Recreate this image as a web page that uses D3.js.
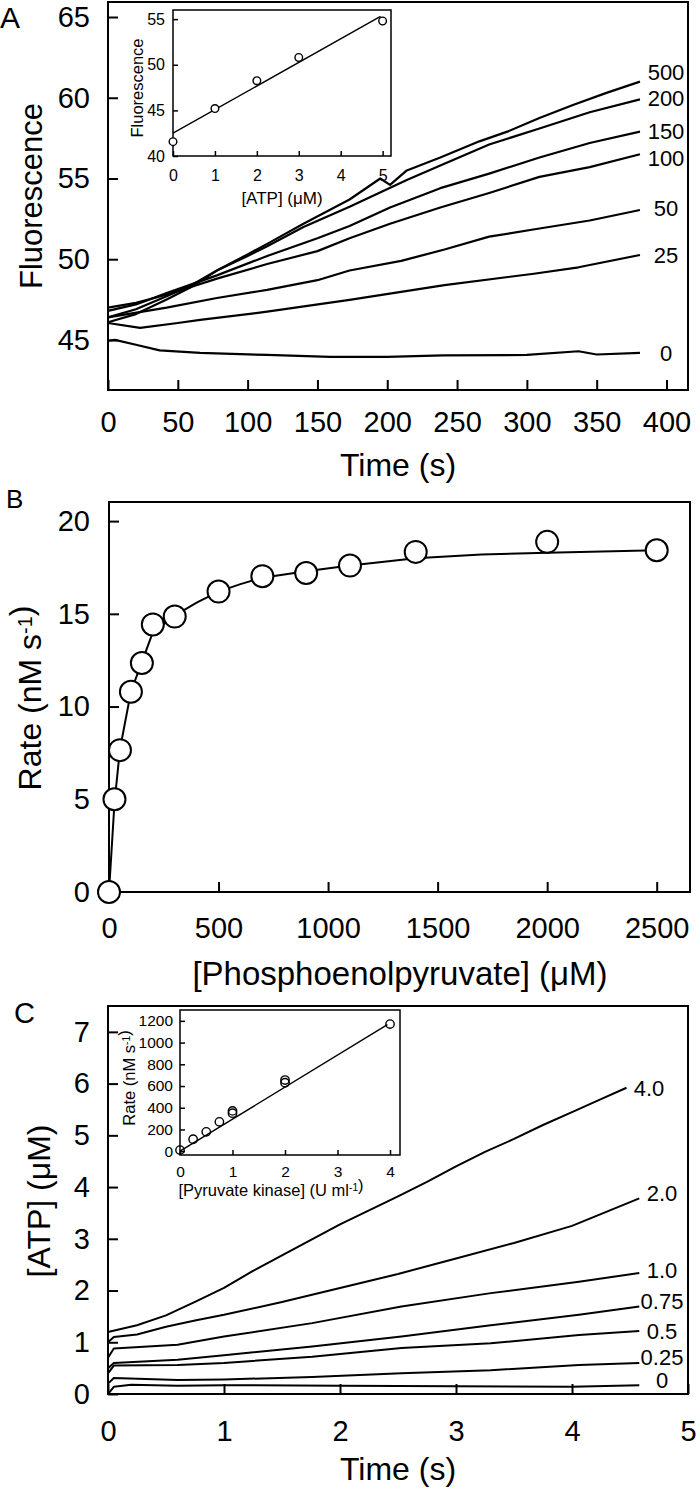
<!DOCTYPE html>
<html>
<head>
<meta charset="utf-8">
<script src="https://cdn.jsdelivr.net/npm/d3@7"></script>
<style>
  body { margin: 0; background: #fff; }
  text { font-family: "Liberation Sans", Arial, Helvetica, sans-serif; fill: #000; }
</style>
</head>
<body>
<svg id="fig" width="698" height="1490"></svg>
<script>
// ---- Panel A: fluorescence traces (time s, fluorescence) ----
const traceLabelsA = ['500', '200', '150', '100', '50', '25', '0'];
const a500 = [[0,46.1],[20,46.6],[42,47.5],[60,48.3],[78,49.3],[100,50.3],[114,50.95],[140,52.2],[173,53.7],[195,55.0],[202,54.6],[214,55.5],[238,56.3],[266,57.3],[286,57.9],[309,58.75],[333,59.55],[357,60.3],[381,61.0]];
const a200 = [[0,46.4],[20,46.9],[42,47.7],[60,48.4],[78,49.3],[100,50.2],[114,50.8],[140,52.0],[173,53.25],[214,54.9],[238,55.8],[273,57.1],[309,58.1],[345,59.1],[381,59.9]];
const a150 = [[0,46.8],[20,47.2],[42,47.9],[78,49.0],[114,50.2],[150,51.3],[173,52.06],[202,53.2],[238,54.4],[273,55.3],[309,56.3],[345,57.2],[381,57.9]];
const a100 = [[0,47.0],[20,47.3],[42,47.8],[78,48.8],[114,49.7],[150,50.5],[173,51.3],[202,52.2],[238,53.2],[273,54.1],[309,55.1],[345,55.7],[381,56.5]];
const a50 = [[0,46.4],[42,47.0],[78,47.6],[114,48.1],[150,48.7],[173,49.3],[210,49.9],[241,50.6],[273,51.4],[309,51.9],[345,52.4],[381,53.05]];
const a25 = [[0,46.05],[23,45.75],[50,46.05],[66,46.24],[114,46.75],[173,47.48],[241,48.4],[305,49.1],[337,49.5],[381,50.26]];
const a0 = [[0,44.95],[5,45.0],[20,44.7],[37,44.35],[66,44.2],[114,44.07],[159,43.95],[200,43.95],[240,44.05],[300,44.07],[337,44.3],[350,44.1],[381,44.2]];
const ticksAx = [0, 50, 100, 150, 200, 250, 300, 350, 400];
const ticksAy = [45, 50, 55, 60, 65];

// inset A: fluorescence vs [ATP]
const atpConc = [0, 1, 2, 3, 5];
const atpFluor = [41.57, 45.2, 48.25, 50.8, 54.8];
const atpFit = [[0, 42.5], [4.95, 55.3]];
const ticksAix = [0, 1, 2, 3, 4, 5];
const ticksAiy = [40, 45, 50, 55];

// ---- Panel B: rate vs [PEP] ----
const pepConc = [0, 25, 50, 100, 150, 200, 300, 500, 700, 900, 1100, 1400, 2000, 2500];
const pepRate = [0, 5.0, 7.65, 10.8, 12.35, 14.43, 14.85, 16.2, 17.03, 17.2, 17.6, 18.34, 18.88, 18.43];
const pepFitX = [0, 25, 50, 100, 150, 200, 300, 400, 500, 600, 700, 900, 1100, 1400, 1700, 2000, 2500];
const pepFitY = [0, 4.8, 7.7, 10.8, 12.4, 14.0, 14.9, 15.6, 16.2, 16.6, 16.95, 17.3, 17.6, 18.0, 18.2, 18.3, 18.43];
const ticksBx = [0, 500, 1000, 1500, 2000, 2500];
const ticksBy = [0, 5, 10, 15, 20];

// ---- Panel C: [ATP] traces (time s, µM) ----
const traceLabelsC = ['4.0', '2.0', '1.0', '0.75', '0.5', '0.25', '0'];
const c40 = [[0,1.2],[0.25,1.33],[0.5,1.52],[0.75,1.78],[1.0,2.05],[1.25,2.38],[1.5,2.68],[1.75,2.98],[2.0,3.28],[2.25,3.55],[2.5,3.82],[2.75,4.1],[3.0,4.4],[3.25,4.68],[3.5,4.93],[3.75,5.2],[4.0,5.45],[4.25,5.7],[4.47,5.92]];
const c20 = [[0,1.0],[0.05,1.1],[0.25,1.15],[0.5,1.3],[0.75,1.42],[1.0,1.53],[1.5,1.78],[2.0,2.05],[2.5,2.32],[3.0,2.62],[3.5,2.92],[4.0,3.25],[4.58,3.78]];
const c10 = [[0,0.7],[0.05,0.88],[0.6,0.95],[1.0,1.11],[1.76,1.37],[2.53,1.69],[3.3,1.95],[4.06,2.17],[4.58,2.34]];
const c075 = [[0,0.5],[0.05,0.6],[0.6,0.66],[1.0,0.75],[1.76,0.92],[2.53,1.11],[3.3,1.33],[4.06,1.53],[4.58,1.69]];
const c05 = [[0,0.4],[0.05,0.55],[0.6,0.56],[1.0,0.6],[1.76,0.72],[2.53,0.89],[3.3,0.98],[4.06,1.14],[4.58,1.22]];
const c025 = [[0,0.2],[0.05,0.31],[0.6,0.27],[1.0,0.28],[1.76,0.33],[2.53,0.4],[3.3,0.46],[4.06,0.56],[4.58,0.6]];
const c0 = [[0,0.0],[0.05,0.14],[0.2,0.18],[0.6,0.16],[1.0,0.17],[2.0,0.16],[3.0,0.15],[4.0,0.14],[4.58,0.17]];
const ticksCx = [0, 1, 2, 3, 4, 5];
const ticksCy = [0, 1, 2, 3, 4, 5, 6, 7];

// inset C: rate vs [pyruvate kinase]
const pkConc = [0, 0.25, 0.5, 0.75, 1, 1, 2, 2, 4];
const pkRate = [10, 110, 178, 270, 371, 350, 655, 630, 1170];
const pkFit = [[0, 0], [3.95, 1165]];
const ticksCix = [0, 1, 2, 3, 4];
const ticksCiy = [0, 200, 400, 600, 800, 1000, 1200];

const svg = d3.select('#fig');

// frame + inward ticks on left/bottom
function drawAxes(g, x, y, o) {
    const [x0, x1] = x.range();
    const [y0, y1] = y.range();
    g.append('rect')
        .attr('x', x0).attr('y', y1)
        .attr('width', x1 - x0).attr('height', y0 - y1)
        .attr('fill', o.fill || 'none')
        .attr('stroke', '#000').attr('stroke-width', o.sw);

    const gx = g.append('g').attr('transform', `translate(0,${y0})`)
        .call(d3.axisBottom(x).tickValues(o.xt).tickSizeInner(-o.tick).tickSizeOuter(0)
            .tickPadding(o.xpad).tickFormat(d3.format('')));
    const gy = g.append('g').attr('transform', `translate(${x0},0)`)
        .call(d3.axisLeft(y).tickValues(o.yt).tickSizeInner(-o.tick).tickSizeOuter(0)
            .tickPadding(o.ypad).tickFormat(d3.format('')));
    [gx, gy].forEach(a => {
        a.attr('font-family', null).attr('font-size', null);
        a.select('.domain').remove();
        a.selectAll('line').attr('stroke', '#000').attr('stroke-width', o.sw);
        a.selectAll('text').style('font-size', o.fs + 'px');
    });
}

function rotLabel(g, x, y, size, parts) {
    const t = g.append('text')
        .attr('transform', `translate(${x},${y}) rotate(-90)`)
        .attr('text-anchor', 'middle')
        .style('font-size', size + 'px');
    addParts(t, parts);
    return t;
}

function addParts(t, parts) {
    parts.forEach(p => {
        if (typeof p === 'string') t.append('tspan').text(p);
        else {
            t.append('tspan').attr('dy', '-0.45em').style('font-size', '0.62em').text(p.sup);
            t.append('tspan').attr('dy', '0.28em').text('');
        }
    });
}

const line = d3.line().x(d => d[0]).y(d => d[1]);

// ================= Panel A =================
const xA = d3.scaleLinear().domain([0, 415.4]).range([108, 688]);
const yA = d3.scaleLinear().domain([41.9, 65.93]).range([390, 2]);
const gA = svg.append('g');
drawAxes(gA, xA, yA, { xt: ticksAx, yt: ticksAy, tick: 10, xpad: 21, ypad: 18, fs: 29, sw: 2 });

const tracesA = [a500, a200, a150, a100, a50, a25, a0];
gA.selectAll('.traceA').data(tracesA).enter().append('path')
    .attr('class', 'traceA')
    .attr('d', d => line(d.map(p => [xA(p[0]), yA(p[1])])))
    .attr('fill', 'none').attr('stroke', '#000').attr('stroke-width', 2.2)
    .attr('stroke-linejoin', 'round');

const nudgeA = [-10, -1, -1, 4, -2, 0, 0];
gA.selectAll('.labA').data(tracesA).enter().append('text')
    .attr('class', 'labA')
    .attr('x', 666)
    .attr('y', (d, i) => yA(d[d.length - 1][1]) + nudgeA[i])
    .attr('dy', '0.36em')
    .attr('text-anchor', 'middle')
    .style('font-size', '22px')
    .text((d, i) => traceLabelsA[i]);

gA.append('text').attr('x', 398).attr('y', 476).attr('text-anchor', 'middle')
    .style('font-size', '32px').text('Time (s)');
rotLabel(gA, 42, 196, 31, ['Fluorescence']);
gA.append('text').attr('x', 0).attr('y', 28).style('font-size', '30px').text('A');

// inset A
const xAi = d3.scaleLinear().domain([0, 5.2]).range([173, 391]);
const yAi = d3.scaleLinear().domain([40, 56]).range([156, 10]);
const gAi = svg.append('g');
drawAxes(gAi, xAi, yAi, { xt: ticksAix, yt: ticksAiy, tick: 5, xpad: 14, ypad: 8, fs: 16, sw: 1.5, fill: '#fff' });
gAi.append('path')
    .attr('d', line(atpFit.map(p => [xAi(p[0]), yAi(p[1])])))
    .attr('stroke', '#000').attr('stroke-width', 1.4);
gAi.selectAll('circle').data(atpConc).enter().append('circle')
    .attr('cx', d => xAi(d)).attr('cy', (d, i) => yAi(atpFluor[i])).attr('r', 3.8)
    .attr('fill', '#fff').attr('stroke', '#000').attr('stroke-width', 1.4);
gAi.append('text').attr('x', 282).attr('y', 204).attr('text-anchor', 'middle')
    .style('font-size', '17px').text('[ATP] (\u03bcM)');
rotLabel(gAi, 143, 88, 16.5, ['Fluorescence']);

// ================= Panel B =================
const xB = d3.scaleLinear().domain([0, 2652]).range([109, 690]);
const yB = d3.scaleLinear().domain([0, 21.03]).range([892, 502]);
const gB = svg.append('g');
drawAxes(gB, xB, yB, { xt: ticksBx, yt: ticksBy, tick: 10, xpad: 25, ypad: 19, fs: 29, sw: 2 });
gB.append('path')
    .attr('d', line(pepFitX.map((c, i) => [xB(c), yB(pepFitY[i])])))
    .attr('fill', 'none').attr('stroke', '#000').attr('stroke-width', 2);
gB.selectAll('circle').data(pepConc).enter().append('circle')
    .attr('cx', d => xB(d)).attr('cy', (d, i) => yB(pepRate[i])).attr('r', 11)
    .attr('fill', '#fff').attr('stroke', '#000').attr('stroke-width', 2);
gB.append('text').attr('x', 400).attr('y', 985).attr('text-anchor', 'middle')
    .style('font-size', '33px').text('[Phosphoenolpyruvate] (\u03bcM)');
rotLabel(gB, 41, 698, 32, ['Rate (nM s', { sup: '-1' }, ')']);
gB.append('text').attr('x', 6).attr('y', 508).style('font-size', '26px').text('B');

// ================= Panel C =================
const xC = d3.scaleLinear().domain([0, 5]).range([108, 688]);
const yC = d3.scaleLinear().domain([0, 7.5]).range([1394, 1006]);
const gC = svg.append('g');
drawAxes(gC, xC, yC, { xt: ticksCx, yt: ticksCy, tick: 10, xpad: 26, ypad: 18, fs: 29, sw: 2 });

const tracesC = [c40, c20, c10, c075, c05, c025, c0];
gC.selectAll('.traceC').data(tracesC).enter().append('path')
    .attr('class', 'traceC')
    .attr('d', d => line(d.map(p => [xC(p[0]), yC(p[1])])))
    .attr('fill', 'none').attr('stroke', '#000').attr('stroke-width', 2)
    .attr('stroke-linejoin', 'round');

const nudgeC = [0, -5, -3, -5, 0, -6, -5];
gC.selectAll('.labC').data(tracesC).enter().append('text')
    .attr('class', 'labC')
    .attr('x', (d, i) => i === 0 ? 649 : 662)
    .attr('y', (d, i) => yC(d[d.length - 1][1]) + nudgeC[i])
    .attr('dy', '0.36em')
    .attr('text-anchor', 'middle')
    .style('font-size', '22px')
    .text((d, i) => traceLabelsC[i]);

gC.append('text').attr('x', 398).attr('y', 1480).attr('text-anchor', 'middle')
    .style('font-size', '32px').text('Time (s)');
rotLabel(gC, 50, 1201, 32, ['[ATP] (\u03bcM)']);
gC.append('text').attr('x', 14).attr('y', 1023).style('font-size', '29px').text('C');

// inset C
const xCi = d3.scaleLinear().domain([0, 4.19]).range([180, 400]);
const yCi = d3.scaleLinear().domain([-35, 1300]).range([1155, 1010]);
const gCi = svg.append('g');
drawAxes(gCi, xCi, yCi, { xt: ticksCix, yt: ticksCiy, tick: 5, xpad: 11, ypad: 7, fs: 15.5, sw: 1.5, fill: '#fff' });
gCi.append('path')
    .attr('d', line(pkFit.map(p => [xCi(p[0]), yCi(p[1])])))
    .attr('stroke', '#000').attr('stroke-width', 1.4);
gCi.selectAll('circle').data(pkConc).enter().append('circle')
    .attr('cx', d => xCi(d)).attr('cy', (d, i) => yCi(pkRate[i])).attr('r', 4.2)
    .attr('fill', 'none').attr('stroke', '#000').attr('stroke-width', 1.4);
const tCi = gCi.append('text').attr('x', 271).attr('y', 1196).attr('text-anchor', 'middle')
    .style('font-size', '16.5px');
addParts(tCi, ['[Pyruvate kinase] (U ml', { sup: '-1' }, ')']);
rotLabel(gCi, 135, 1078, 16.5, ['Rate (nM s', { sup: '-1' }, ')']);
</script>
</body>
</html>
